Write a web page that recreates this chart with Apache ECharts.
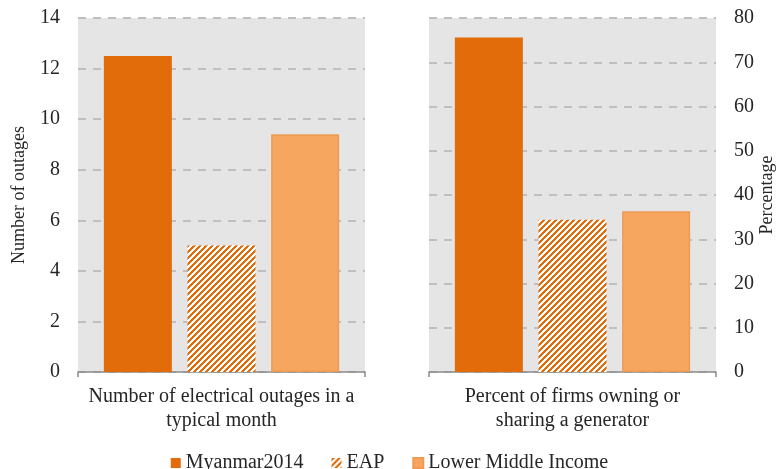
<!DOCTYPE html>
<html>
<head>
<meta charset="utf-8">
<script src="https://cdn.jsdelivr.net/npm/echarts@6/dist/echarts.min.js"></script>
<style>
html,body{margin:0;padding:0;background:#fff;}
#chart{width:779px;height:469px;}
</style>
</head>
<body>
<div id="chart"></div>
<script>
// Data
var seriesNames = ['Myanmar2014', 'EAP', 'Lower Middle Income'];
var leftCategory = ['Number of electrical outages in a\ntypical month'];
var rightCategory = ['Percent of firms owning or\nsharing a generator'];
var leftValues = [12.5, 5.0, 9.4];     // number of outages
var rightValues = [75.6, 34.4, 36.3];  // percentage
var leftTicks = {min: 0, max: 14, interval: 2};
var rightTicks = {min: 0, max: 80, interval: 10};

var FONT = '"Liberation Serif", "DejaVu Serif", serif';
var DARK = '#E36C0A';
var LIGHT = '#F7A660';

// hatch pattern for EAP
function makeHatch() {
  var n = 6;
  var c = document.createElement('canvas');
  c.width = n; c.height = n;
  var ctx = c.getContext('2d');
  ctx.fillStyle = '#ffffff';
  ctx.fillRect(0, 0, n, n);
  ctx.fillStyle = DARK;
  for (var x = 0; x < n; x++) {
    for (var y = 0; y < n; y++) {
      if ((x + y) % n < 3) ctx.fillRect(x, y, 1, 1);
    }
  }
  return c;
}
var hatch = {image: makeHatch(), repeat: 'repeat'};

var styles = [
  {color: DARK},
  {color: hatch},
  {color: LIGHT, borderColor: '#EE9A55', borderWidth: 1.5}
];

var chart = echarts.init(document.getElementById('chart'), null, {renderer: 'canvas'});

function xAxis(gridIndex, cats) {
  return {
    type: 'category', gridIndex: gridIndex, data: cats,
    axisLine: {show: true, lineStyle: {color: '#8C8C8C', width: 1.5}},
    axisTick: {show: true, length: 5, lineStyle: {color: '#8C8C8C', width: 1.5}},
    axisLabel: {fontFamily: FONT, fontSize: 20, color: '#262626', margin: 13, lineHeight: 24}
  };
}
function yAxis(gridIndex, ticks, pos, name, nameGap) {
  return {
    type: 'value', gridIndex: gridIndex, position: pos,
    min: ticks.min, max: ticks.max, interval: ticks.interval,
    name: name, nameLocation: 'middle', nameGap: nameGap, nameRotate: 90,
    nameTextStyle: {fontFamily: FONT, fontSize: 18, color: '#262626'},
    axisLine: {show: false}, axisTick: {show: false},
    axisLabel: {fontFamily: FONT, fontSize: 20, color: '#262626', margin: 18},
    splitLine: {show: true, lineStyle: {color: '#BFBFBF', width: 2, type: [8, 7]}}
  };
}

var series = [];
[leftValues, rightValues].forEach(function (vals, gi) {
  seriesNames.forEach(function (nm, si) {
    series.push({
      name: nm, type: 'bar', xAxisIndex: gi, yAxisIndex: gi,
      data: [vals[si]], barWidth: 68, barGap: '23%',
      itemStyle: styles[si], silent: true
    });
  });
});

chart.setOption({
  animation: false,
  backgroundColor: '#ffffff',
  grid: [
    {left: 78, right: 414, top: 18, bottom: 97, show: true, backgroundColor: '#E5E5E5', borderWidth: 0},
    {left: 429, right: 63, top: 18, bottom: 97, show: true, backgroundColor: '#E5E5E5', borderWidth: 0}
  ],
  legend: {
    data: seriesNames, left: 'center', top: 448,
    icon: 'rect', itemWidth: 10, itemHeight: 10, itemGap: 28,
    textStyle: {fontFamily: FONT, fontSize: 20, color: '#262626'}
  },
  xAxis: [xAxis(0, leftCategory), xAxis(1, rightCategory)],
  yAxis: [
    yAxis(0, leftTicks, 'left', 'Number of outages', 50),
    yAxis(1, rightTicks, 'right', 'Percentage', 40)
  ],
  series: series
});
</script>
</body>
</html>
